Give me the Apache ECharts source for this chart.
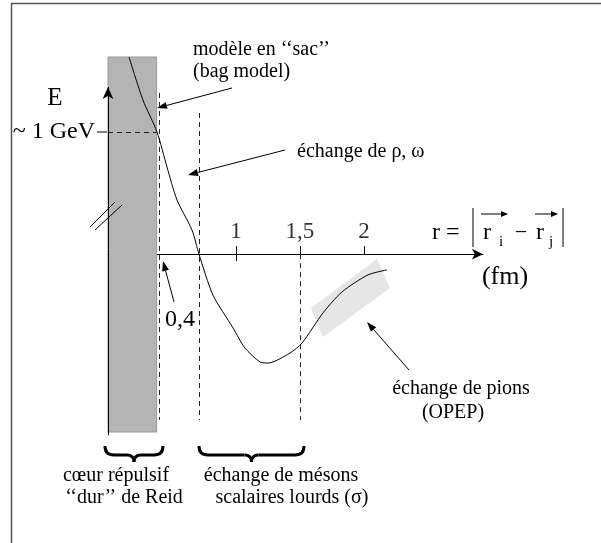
<!DOCTYPE html>
<html>
<head>
<meta charset="utf-8">
<script src="https://cdn.jsdelivr.net/npm/echarts@6/dist/echarts.min.js"></script>
<style>
  html, body { margin: 0; padding: 0; background: #fff; }
  #chart { width: 601px; height: 543px; }
</style>
</head>
<body>
<div id="chart"></div>
<script>
// potential curve, r in fm, E in GeV (schematic)
const rValues = [0.164, 0.273, 0.383, 0.461, 0.539, 0.656, 0.711, 0.82, 0.977, 1.07, 1.188, 1.25, 1.422, 1.516, 1.68, 1.828, 2.031, 2.18];
const energy = [1.618, 1.265, 1.003, 0.715, 0.445, 0.199, 0, -0.335, -0.605, -0.77, -0.884, -0.893, -0.811, -0.729, -0.482, -0.31, -0.17, -0.129];

const tickValues = [1, 1.5, 2];
const tickLabels = ['1', '1,5', '2'];
const tickTop = 0.066;
const tickBottom = [-0.057, 0, -0.008];

// region limits (fm) and where each dashed line starts (GeV)
const regionR = [0.4, 0.71, 1.5];
const regionTop = [1.323, 1.158, 0];
const regionBottom = -1.36;

const coreR = 0.38;
const coreTop = 1.618;
const coreBottom = -1.459;
const gevLevel = 1;
const eAxisRange = [-1.485, 1.372];

const serif = '"Liberation Serif", "DejaVu Serif", serif';
const note = 20;

const chart = echarts.init(document.getElementById('chart'));

function seg(x1, y1, x2, y2, w) {
  return { type: 'line', shape: { x1: x1, y1: y1, x2: x2, y2: y2 }, style: { stroke: '#000', lineWidth: w || 1 }, z: 10 };
}

function arrow(x1, y1, x2, y2, head, half) {
  head = head || 10;
  half = half || 3.5;
  const a = Math.atan2(y2 - y1, x2 - x1);
  const bx = x2 - head * Math.cos(a), by = y2 - head * Math.sin(a);
  const px = -Math.sin(a) * half, py = Math.cos(a) * half;
  return [
    seg(x1, y1, bx, by),
    { type: 'polygon', shape: { points: [[x2, y2], [bx + px, by + py], [bx - px, by - py]] }, style: { fill: '#000' }, z: 10 }
  ];
}

function curve(x1, y1, cx, cy, x2, y2) {
  return {
    type: 'bezierCurve',
    shape: { x1: x1, y1: y1, x2: x2, y2: y2, cpx1: cx, cpy1: cy },
    style: { stroke: '#000', lineWidth: 3, fill: null },
    z: 10
  };
}

function brace(a, b, top, tip) {
  const m = (a + b) / 2, mid = (top + tip) / 2 + 1;
  return [
    curve(a, top, a, mid, a + 9, mid),
    seg(a + 9, mid, m - 7, mid, 3),
    curve(m - 7, mid, m, mid, m, tip),
    curve(m, tip, m, mid, m + 7, mid),
    seg(m + 7, mid, b - 9, mid, 3),
    curve(b - 9, mid, b, mid, b, top)
  ];
}

function txt(t, x, y, size, align) {
  return {
    type: 'text', x: x, y: y, z: 10,
    style: { text: t, fontSize: size, fontFamily: serif, fill: '#000', align: align || 'left', verticalAlign: 'middle' }
  };
}

const dashed = { color: '#222', width: 1, type: [5, 4] };

const graphics = [
  // frame
  { type: 'polyline', shape: { points: [[11.5, 543], [11.5, 3.5], [601, 3.5]] }, style: { stroke: '#555', lineWidth: 1.5, fill: null } },
  // OPEP highlight
  { type: 'polygon', shape: { points: [[311, 308], [323, 337], [390, 288], [377, 259]] }, style: { fill: '#e6e6e6' }, z: 0 },
  // axis break
  seg(90, 227, 115, 202),
  seg(95, 230, 122, 205),
  // 1 GeV tick
  seg(97, 132, 107, 132),
  txt('E', 55, 98, 25, 'center'),
  txt('~ 1 GeV', 95, 132, 24, 'right'),
  txt('modèle en \u2018\u2018sac\u2019\u2019', 193, 50, note),
  txt('(bag model)', 193, 72, note),
  txt('échange de ρ, ω', 297, 152, note),
  txt('0,4', 180, 320, 24, 'center'),
  txt('(fm)', 505, 277, 26, 'center'),
  txt('échange de pions', 461, 389, note, 'center'),
  txt('(OPEP)', 453, 413, note, 'center'),
  txt('cœur répulsif', 116, 476, note, 'center'),
  txt('\u2018\u2018dur\u2019\u2019 de Reid', 124, 498, note, 'center'),
  txt('échange de mésons', 281, 476, note, 'center'),
  txt('scalaires lourds (σ)', 292, 498, note, 'center'),
  // r = |r_i - r_j|
  txt('r =', 432, 233, 24),
  seg(473, 208, 473, 247),
  txt('r', 483, 233, 24),
  txt('i', 499, 242, 15),
  txt('−', 521, 233, 22, 'center'),
  txt('r', 536, 233, 24),
  txt('j', 549, 242, 15),
  seg(563, 208, 563, 247)
]
  .concat(brace(105, 163, 446, 462))
  .concat(brace(199, 304, 446, 462))
  .concat(arrow(481, 214, 508, 214, 7, 3))
  .concat(arrow(535, 214, 558, 214, 7, 3))
  .concat(arrow(232, 88, 157, 108))
  .concat(arrow(285, 150, 188, 175))
  .concat(arrow(174, 302, 163, 261))
  .concat(arrow(409, 370, 367, 322));

const regionLines = regionR.map(function (r, i) {
  return [{ coord: [r, regionTop[i]] }, { coord: [r, regionBottom] }];
});

const tickLines = tickValues.map(function (t, i) {
  return [{ coord: [t, tickTop] }, { coord: [t, tickBottom[i]] }];
});

chart.setOption({
  animation: false,
  backgroundColor: '#fff',
  grid: { left: 108, right: 118, top: 47, bottom: 106 },
  xAxis: {
    type: 'value', min: 0, max: 2.93,
    axisLine: { onZero: true, lineStyle: { color: '#000', width: 1 }, symbol: ['none', 'arrow'], symbolSize: [8, 11] },
    axisTick: { show: false },
    axisLabel: { show: false },
    splitLine: { show: false }
  },
  yAxis: { type: 'value', min: -1.5, max: 1.7, show: false, splitLine: { show: false } },
  graphic: graphics,
  series: [
    {
      type: 'line', z: 5,
      data: rValues.map(function (r, i) { return [r, energy[i]]; }),
      smooth: 0.25, showSymbol: false, clip: false,
      lineStyle: { color: '#000', width: 1 },
      markArea: {
        silent: true,
        itemStyle: { color: '#b4b4b4', borderColor: '#9a9a9a', borderWidth: 1 },
        data: [[{ coord: [0, coreTop] }, { coord: [coreR, coreBottom] }]]
      },
      markLine: {
        silent: true, symbol: ['none', 'none'], label: { show: false },
        lineStyle: dashed,
        data: regionLines.concat([[{ coord: [0, gevLevel] }, { coord: [coreR, gevLevel] }]])
      }
    },
    {
      type: 'line', data: [], z: 6,
      markLine: {
        silent: true, symbol: ['none', 'arrow'], symbolSize: [8, 12], label: { show: false },
        lineStyle: { color: '#000', width: 1, type: 'solid' },
        data: [[{ coord: [0, eAxisRange[0]] }, { coord: [0, eAxisRange[1]] }]]
      }
    },
    {
      // tick marks and tick labels of the r axis
      type: 'scatter', z: 6, symbolSize: 0, silent: true,
      data: tickValues.map(function (t) { return [t, 0]; }),
      label: {
        show: true, position: 'top', distance: 11, color: '#000', fontSize: 23, fontFamily: serif,
        formatter: function (p) { return tickLabels[p.dataIndex]; }
      },
      markLine: {
        silent: true, symbol: ['none', 'none'], label: { show: false },
        lineStyle: { color: '#000', width: 1, type: 'solid' },
        data: tickLines
      }
    }
  ]
});
</script>
</body>
</html>
